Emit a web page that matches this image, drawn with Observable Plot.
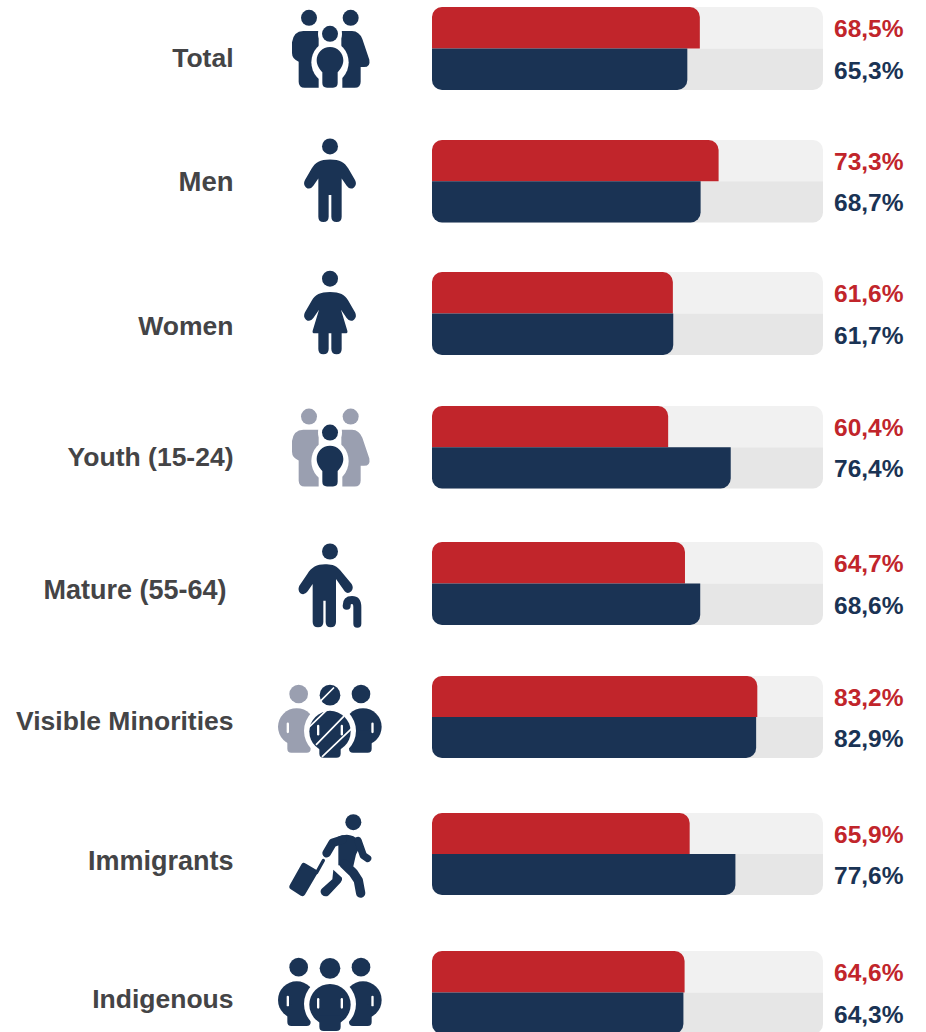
<!DOCTYPE html>
<html>
<head>
<meta charset="utf-8">
<script src="https://cdn.jsdelivr.net/npm/d3@7"></script>
<script src="https://cdn.jsdelivr.net/npm/@observablehq/plot@0.6"></script>
<style>
html,body{margin:0;padding:0;background:#fff;overflow:hidden}
svg{display:block}
</style>
</head>
<body>
<div id="chart"></div>
<script>
const categories = ["Total","Men","Women","Youth (15-24)","Mature (55-64)","Visible Minorities","Immigrants","Indigenous"];
const redValues  = [68.5,73.3,61.6,60.4,64.7,83.2,65.9,64.6];
const blueValues = [65.3,68.7,61.7,76.4,68.6,82.9,77.6,64.3];

// layout only: row edges of the bar pairs, label nudges
const rowEdges = [7,90, 140,222.5, 272,355, 406,488.5, 542,625, 676,758, 813,895, 951,1034];
const labelDy  = [9.5,0.5,12.5,9.5,6.5,4.5,7,7];
const labelRight = [233,233,233,233,226,233,233,233];
const labelSize = [26.5,27.5,26.5,26.5,27,26.5,27,26.5];

const RED="#c1252b", NAVY="#1a3354", GREY="#9a9fb0", INK="#444446";

const familyIcon = adult => `
<g fill="${adult}">
<circle cx="117" cy="56.5" r="24"/><circle cx="242" cy="56.5" r="24"/>
<path d="M100 96Q70 97 66 130V162Q66 180 86 188V248Q86 266 104 266H146V96Z"/>
<path d="M214 96H246Q268 97 277 120L298 182Q302 204 282 204H272V248Q272 266 254 266H214Z"/>
</g>
<g fill="#fff"><circle cx="180" cy="104" r="36"/><ellipse cx="180" cy="190" rx="56" ry="62"/><rect x="147" y="215" width="70" height="55"/></g>
<g fill="${NAVY}"><circle cx="180" cy="104.5" r="24"/>
<path d="M180 144C203 144 220 162 220 184C220 200 210 212 203 220V252Q203 266 189 266H171Q157 266 157 252V220C150 212 140 200 140 184C140 162 157 144 180 144Z"/></g>`;

const manBody = `M180 83C150 83 136 92 125 110L105 145Q98 158 108 167Q120 176 130 162L145 140V255Q145 271 160 271Q176 271 176 255V190H184V255Q184 271 200 271Q215 271 215 255V140L230 162Q240 176 252 167Q262 158 255 145L235 110C224 92 210 83 180 83Z`;
const womanBody = `M180 84C150 84 136 92 125 110L105 145Q98 158 108 167Q120 176 130 162L147 137L128 200Q126 208 134 208H145V255Q145 271 160 271Q176 271 176 255V208H184V255Q184 271 200 271Q215 271 215 255V208H226Q234 208 232 200L213 137L230 162Q240 176 252 167Q262 158 255 145L235 110C224 92 210 84 180 84Z`;
const personIcon = body => `<g fill="${NAVY}"><circle cx="180" cy="44" r="24"/><path d="${body}"/></g>`;

const matureIcon = `
<g fill="${NAVY}">
<circle cx="180" cy="52.5" r="24"/>
<path d="M165 91C140 91 125 100 112 120L88 155Q82 168 91 178Q103 186 113 172L128 150V264Q128 280 144 280Q160 280 160 264V200H167V264Q167 280 182 280Q198 280 198 264V135L224 172Q233 182 244 172Q252 162 245 150L210 108C196 92 180 91 165 91Z"/>
</g>
<path d="M262 269V220Q262 198 246 198Q230 198 230 215" stroke="${NAVY}" stroke-width="24" stroke-linecap="round" fill="none"/>`;

const trioIcon = (left, hatch, shift) => `
<g transform="translate(0 ${shift})">
<circle cx="86" cy="79.5" r="28" fill="${left}"/><circle cx="273" cy="79.5" r="28" fill="${NAVY}"/>
<circle cx="80" cy="178" r="56" fill="${left}"/><rect x="52" y="190" width="70" height="66" rx="12" fill="${left}"/>
<circle cx="279" cy="178" r="56" fill="${NAVY}"/><rect x="237" y="190" width="68" height="66" rx="12" fill="${NAVY}"/>
<rect x="50" y="165" width="7" height="32" rx="3.5" fill="#fff"/><rect x="304" y="165" width="7" height="32" rx="3.5" fill="#fff"/>
<circle cx="180" cy="190" r="78" fill="#fff"/><rect x="136" y="220" width="88" height="55" fill="#fff"/>
<circle cx="180" cy="83" r="31" fill="${NAVY}"/>
<circle cx="180" cy="192" r="62" fill="${NAVY}"/>
<path fill="${NAVY}" d="M148 225H212V258Q212 271 199 271H161Q148 271 148 258Z"/>
<rect x="141" y="172" width="7" height="32" rx="3.5" fill="#fff"/><rect x="212" y="172" width="7" height="32" rx="3.5" fill="#fff"/>
${hatch?`<g stroke="#fff" stroke-width="5" fill="none"><path d="M152 100L192 60M114 182L170 128M138 232L222 146M156 268L244 184"/></g>`:''}
</g>`;

const immigrantIcon = `
<g fill="${NAVY}">
<circle cx="250" cy="53" r="24"/>
<path d="M205 96Q225 89 240 92Q262 96 273 120L258 150L250 185L205 182Z"/>
<path d="M104 179L137 198Q141 201 139 206L103 268Q100 274 94 271L64 252Q59 249 62 243L97 181Q100 176 104 179Z" stroke="${NAVY}" stroke-width="6" stroke-linejoin="round"/>
<path d="M190 196L216 220Q218 228 212 234L176 272Q166 280 155 270Q148 260 156 252L187 224Z"/>
</g>
<g stroke="${NAVY}" fill="none" stroke-linecap="round" stroke-linejoin="round">
<path d="M218 105L188 115L170 146" stroke-width="26"/>
<path d="M264 108L280 153L293 162" stroke-width="22"/>
<path d="M222 178L250 205L265 228L272 266" stroke-width="28"/>
<path d="M140 204L160 168" stroke-width="10"/>
</g>`;

const wrap = s => "data:image/svg+xml;charset=utf-8," + encodeURIComponent(
  `<svg xmlns="http://www.w3.org/2000/svg" viewBox="0 0 360 300" width="360" height="300">${s}</svg>`);

const iconSources = [
  familyIcon(NAVY), personIcon(manBody), personIcon(womanBody), familyIcon(GREY),
  matureIcon, trioIcon(GREY,true,0), immigrantIcon, trioIcon(NAVY,false,-7)
].map(wrap);

const rows = categories.map((name,i)=>({name,i,red:redValues[i],blue:blueValues[i],src:iconSources[i]}));
const fmt = v => v.toFixed(1).replace(".",",")+"%";
const R = 10;

const plot = Plot.plot({
  width:926, height:1032,
  marginTop:0, marginRight:0, marginBottom:0, marginLeft:0,
  style:{background:"#fff", fontFamily:"'Liberation Sans',Arial,sans-serif"},
  x:{type:"linear", domain:[0,100], range:[432,823], axis:null},
  y:{type:"linear", domain:rowEdges.map((_,k)=>k), range:rowEdges, axis:null},
  marks:[
    Plot.rect(rows,{x1:()=>0,x2:()=>100,y1:d=>d.i*2,y2:d=>d.i*2+.5,fill:"#f1f1f1",rx1y1:R,rx2y1:R}),
    Plot.rect(rows,{x1:()=>0,x2:()=>100,y1:d=>d.i*2+.5,y2:d=>d.i*2+1,fill:"#e6e6e6",rx1y2:R,rx2y2:R}),
    Plot.rect(rows,{x1:()=>0,x2:"red",y1:d=>d.i*2,y2:d=>d.i*2+.5,fill:RED,rx1y1:R,rx2y1:R}),
    Plot.rect(rows,{x1:()=>0,x2:"blue",y1:d=>d.i*2+.5,y2:d=>d.i*2+1,fill:NAVY,rx1y2:R,rx2y2:R}),
    Plot.text(rows,{x:()=>100,y:d=>d.i*2+.25,dx:10.5,dy:1,text:d=>fmt(d.red),textAnchor:"start",fill:RED,fontWeight:"bold",fontSize:24.5}),
    Plot.text(rows,{x:()=>100,y:d=>d.i*2+.75,dx:10.5,dy:1,text:d=>fmt(d.blue),textAnchor:"start",fill:NAVY,fontWeight:"bold",fontSize:24.5}),
    Plot.image(rows,{frameAnchor:"left",dx:329.5,y:d=>d.i*2+.5,src:d=>d.src,width:120,height:100}),
    ...rows.map((d,k)=>Plot.text([d],{frameAnchor:"left",dx:labelRight[k],dy:labelDy[k],y:e=>e.i*2+.5,text:"name",textAnchor:"end",fill:INK,fontWeight:"bold",fontSize:labelSize[k]}))
  ]
});
document.getElementById("chart").append(plot);
</script>
</body>
</html>
